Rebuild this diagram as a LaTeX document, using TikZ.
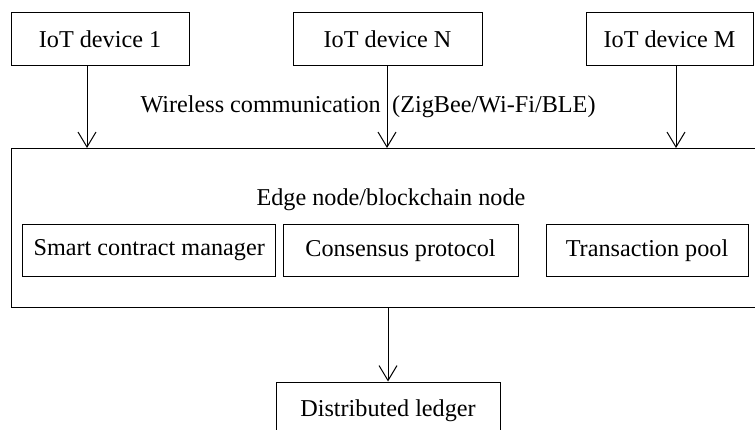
\documentclass[tikz,border=0pt]{standalone}
\usepackage{fontspec}
\setmainfont{Liberation Serif}
\usetikzlibrary{arrows.meta}
\begin{document}
\begin{tikzpicture}[x=1pt,y=-1pt,
  every node/.style={font=\fontsize{24.2}{29}\selectfont, inner sep=0pt},
  boxed/.style={draw, line width=1pt, rectangle},
  conn/.style={line width=1pt, -{Straight Barb[length=15pt,width=18pt,line width=1pt]}}]
\useasboundingbox (0,0) rectangle (755,430);
% IoT devices
\node[boxed, minimum width=178pt, minimum height=53pt] (d1) at (100,39) {IoT device 1};
\node[boxed, minimum width=189pt, minimum height=53pt] (dN) at (387.5,39) {IoT device N};
\node[boxed, minimum width=167pt, minimum height=53pt] (dM) at (669.5,39) {IoT device M};
% edge node
\node[boxed, minimum width=744pt, minimum height=159pt] (edge) at (383,228) {};
\node (edgelbl) at (391,200) {Edge node/blockchain node};
\node[boxed, minimum width=253pt, minimum height=52pt] (sc) at (149.2,250.5) {Smart contract manager};
\node[boxed, minimum width=235pt, minimum height=52pt] (cp) at (400.5,250.5) {Consensus protocol};
\node[boxed, minimum width=202pt, minimum height=52pt] (tp) at (647,250.5) {Transaction pool};
% ledger
\node[boxed, minimum width=224pt, minimum height=48pt] (dl) at (388,406) {};
\node[anchor=base] (dltext) at (388,416.5) {Distributed ledger};
% wireless label
\node[anchor=base east] (wl1) at (381,113) {Wireless communication};
\node[anchor=base west] (wl2) at (392,113) {(ZigBee/Wi-Fi/BLE)};
% arrows
\coordinate (a1s) at (d1.south -| 87,0);
\coordinate (a1e) at (edge.north -| 87,0);
\coordinate (aNs) at (dN.south -| 387,0);
\coordinate (aNe) at (edge.north -| 387,0);
\coordinate (aMs) at (dM.south -| 676,0);
\coordinate (aMe) at (edge.north -| 676,0);
\coordinate (aLs) at (edge.south -| 388,0);
\draw[conn] (a1s) -- (a1e);
\draw[conn] (aNs) -- (aNe);
\draw[conn] (aMs) -- (aMe);
\draw[conn] (aLs) -- (dl.north);
\end{tikzpicture}
\end{document}
